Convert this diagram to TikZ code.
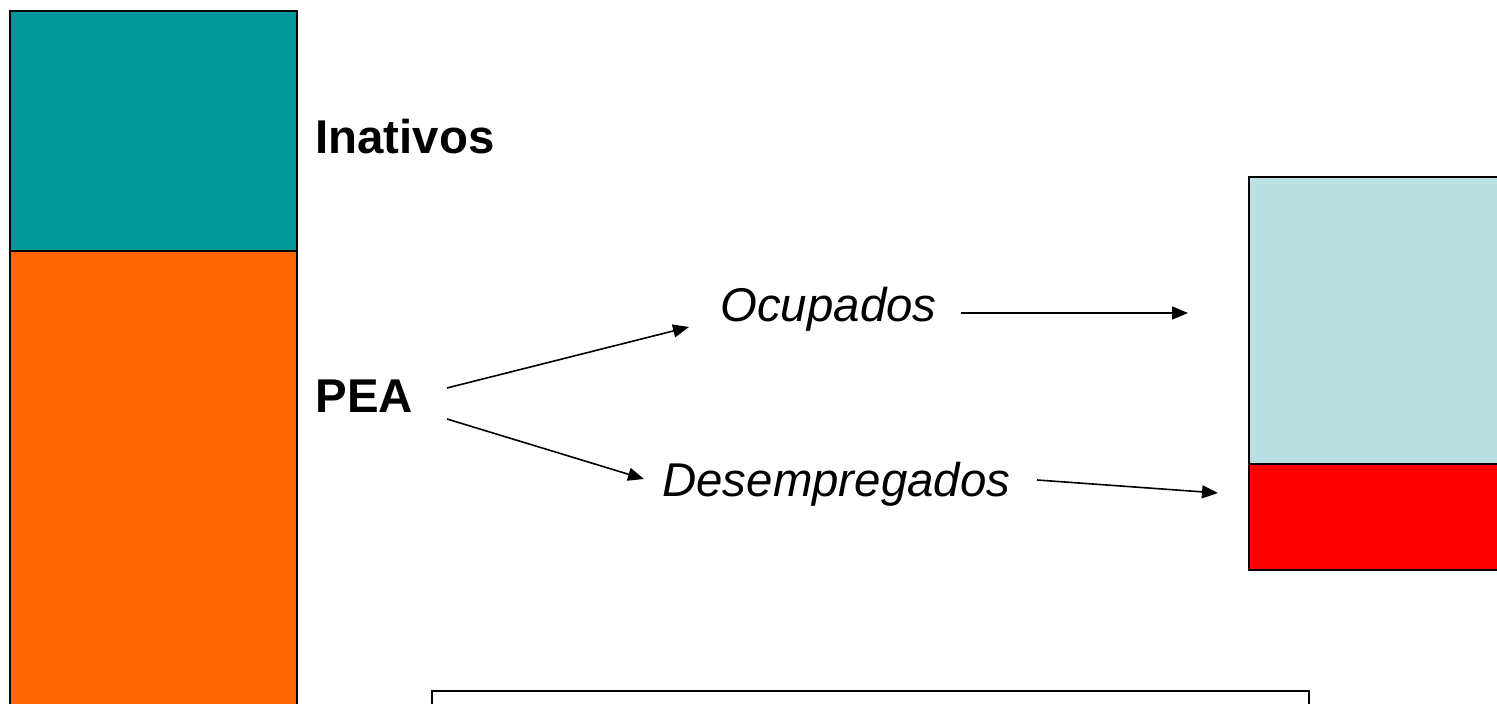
\documentclass[tikz,border=0pt]{standalone}
\usepackage{fontspec}
\setmainfont{Liberation Sans}
\usetikzlibrary{arrows.meta}
\definecolor{inativocol}{HTML}{009999}
\definecolor{peacol}{HTML}{FF6600}
\definecolor{ocupcol}{HTML}{BBE0E3}
\definecolor{desempcol}{HTML}{FF0000}
\begin{document}
\begin{tikzpicture}[x=0.5pt,y=-0.5pt,
    bar/.style={draw=black,line width=1.1pt},
    lbl/.style={anchor=base west,inner sep=0pt},
    flow/.style={line width=0.8pt,-{Triangle[length=8pt,width=6.5pt]}}]
    \useasboundingbox (0,0) rectangle (1497,704);
    \clip (0,0) rectangle (1497,704);
    % population bar
    \draw[bar,fill=inativocol] (10,11) rectangle (297,251);
    \draw[bar,fill=peacol] (10,251) rectangle (297,720);
    % labour force bar
    \draw[bar,fill=ocupcol] (1249,177) rectangle (1520,464);
    \draw[bar,fill=desempcol] (1249,464) rectangle (1520,570);
    % empty box at the bottom
    \draw[bar,fill=white] (432,691) rectangle (1309,720);
    % labels
    \node[lbl,font=\fontsize{23.7}{28}\selectfont\bfseries] (inativos) at (315,154) {Inativos};
    \node[lbl,font=\fontsize{23.7}{28}\selectfont\bfseries] (pea) at (315,413) {PEA};
    \node[lbl,font=\fontsize{23.7}{28}\selectfont\itshape] (ocupados) at (720,322) {Ocupados};
    \node[lbl,font=\fontsize{23.7}{28}\selectfont\itshape] (desemp) at (662,497) {Desempregados};
    % arrow ends
    \coordinate (pea-up) at (447,388);
    \coordinate (pea-down) at (447,419);
    \coordinate (ocup-in) at (689,327);
    \coordinate (desemp-in) at (644,479);
    \coordinate (ocup-out) at (961,313);
    \coordinate (ocup-bar) at (1188,313);
    \coordinate (desemp-out) at (1037,480);
    \coordinate (desemp-bar) at (1218,493);
    \draw[flow] (pea-up) -- (ocup-in);
    \draw[flow] (pea-down) -- (desemp-in);
    \draw[flow] (ocup-out) -- (ocup-bar);
    \draw[flow] (desemp-out) -- (desemp-bar);
\end{tikzpicture}
\end{document}
